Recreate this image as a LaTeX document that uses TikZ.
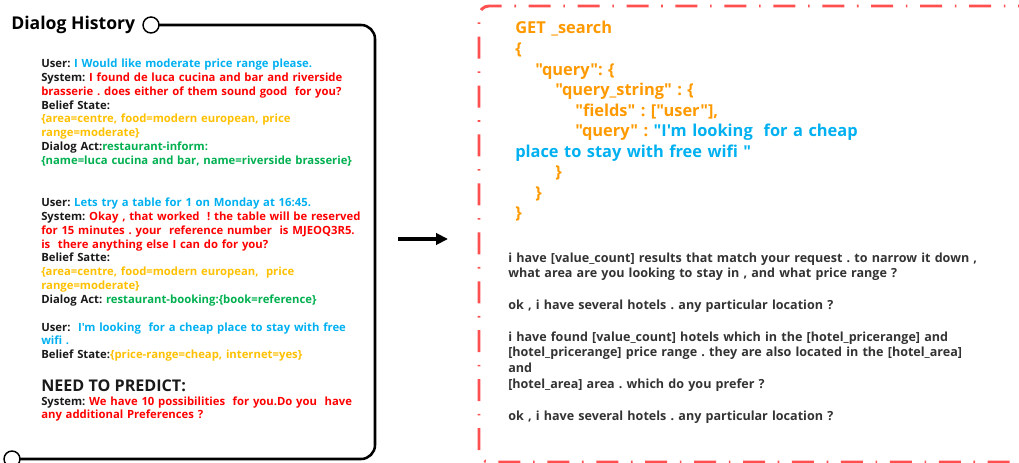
\documentclass[tikz,border=0pt]{standalone}
\usepackage{fontspec}
\setmainfont{Open Sans}[Ligatures=TeXOff]
\usetikzlibrary{arrows.meta}
\definecolor{usr}{HTML}{00B0F0}
\definecolor{sys}{HTML}{FF0000}
\definecolor{bel}{HTML}{FFC000}
\definecolor{act}{HTML}{00B050}
\definecolor{jsn}{HTML}{FF9900}
\definecolor{frm}{HTML}{FF5050}
\definecolor{dk}{HTML}{1A1A1A}
\definecolor{gr}{HTML}{333333}
\newcommand{\U}[1]{\textcolor{usr}{#1}}
\newcommand{\R}[1]{\textcolor{sys}{#1}}
\newcommand{\Y}[1]{\textcolor{bel}{#1}}
\newcommand{\G}[1]{\textcolor{act}{#1}}
\newcommand{\B}[1]{\textcolor{usr}{#1}}
\tikzset{
  hist/.style={anchor=base west, inner sep=0pt, text width=330pt, align=left,
    font=\fontsize{8.48pt}{10.3pt}\selectfont\bfseries\frenchspacing, text=dk},
  jsontext/.style={anchor=base west, inner sep=0pt, text width=380pt, align=left,
    font=\fontsize{12.3pt}{15.4pt}\selectfont\bfseries\frenchspacing, text=jsn},
  resp/.style={anchor=base west, inner sep=0pt, text width=400pt, align=left,
    font=\fontsize{9.42pt}{11.85pt}\selectfont\bfseries\frenchspacing, text=gr},
  histframe/.style={line width=1.9pt, draw=black, rounded corners=10.5pt},
  endcirc/.style={line width=1.1pt, draw=black, fill=white},
  dashframe/.style={line width=2.2pt, draw=frm, rounded corners=7.5pt,
    dash pattern=on 16.5pt off 9.5pt on 1.2pt off 9.5pt},
  arr/.style={line width=2.3pt, -{Triangle[length=9pt,width=8.5pt]}}
}
\begin{document}
\begin{tikzpicture}[x=0.75pt, y=-0.75pt]
\useasboundingbox (0,0) rectangle (1019,463);
% left frame
\coordinate (tl) at (151,25);
\coordinate (bl) at (12,459);
\draw[histframe] (159,25) -- (375,25) -- (375,459) -- (20,459);
\draw[endcirc] (tl) circle[radius=6pt];
\draw[endcirc] (bl) circle[radius=6pt];
\node[anchor=base west, inner sep=0pt, font=\fontsize{13.2pt}{16pt}\selectfont\bfseries] (title) at (11,30) {Dialog History};
% dialog text
\node[hist] (b1) at (41,68) {User: \U{I Would like moderate price range please.}\\
System: \R{I found de luca cucina and bar and riverside}\\
\R{brasserie . does either of them sound good\ \ for you?}\\
Belief State:\\
\Y{\{area=centre, food=modern european, price}\\
\Y{range=moderate\}}\\
Dialog Act:\G{restaurant-inform:}\\
\G{\{name=luca cucina and bar, name=riverside brasserie\}}};
\node[hist] (b2) at (41,207) {User: \U{Lets try a table for 1 on Monday at 16:45.}\\
System: \R{Okay , that worked\ \ ! the table will be reserved}\\
\R{for 15 minutes . your\ \ reference number\ \ is MJEOQ3R5.}\\
\R{is\ \ there anything else I can do for you?}\\
Belief Satte:\\
\Y{\{area=centre, food=modern european,\ \ price}\\
\Y{range=moderate\}}\\
Dialog Act: \G{restaurant-booking:\{book=reference\}}};
\node[hist] (b3) at (41,331) {User:\ \ \U{I'm looking\ \ for a cheap place to stay with free}\\
\U{wifi .}\\
Belief State:\Y{\{price-range=cheap, internet=yes\}}};
\node[anchor=base west, inner sep=0pt, font=\fontsize{12.1pt}{14pt}\selectfont\bfseries, text=dk] (need) at (41,391) {NEED TO PREDICT:};
\node[hist] (b4) at (41,405) {System: \R{We have 10 possibilities\ \ for you.Do you\ \ have}\\
\R{any additional Preferences ?}};
% arrow
\coordinate (a1) at (398,239);
\coordinate (a2) at (448,239);
\draw[arr] (a1) -- (a2);
% right frame
\draw[dashframe] (1040,6) -- (479,6) -- (479,462) -- (1040,462);
\node[jsontext] (json) at (515,34) {GET \_search\\
\{\\
\hspace*{15pt}"query": \{\\
\hspace*{30pt}"query\_string" : \{\\
\hspace*{45pt}"fields" : ["user"],\\
\hspace*{45pt}"query" : \B{"I'm looking\ \ for a cheap}\\
\B{place to stay with free wifi "}\\
\hspace*{30pt}\}\\
\hspace*{15pt}\}\\
\}};
\node[resp] (resp) at (508,262) {i have {[}value\_count{]} results that match your request . to narrow it down ,\\
what area are you looking to stay in , and what price range ?\\
\mbox{}\\
ok , i have several hotels . any particular location ?\\
\mbox{}\\
i have found {[}value\_count{]} hotels which in the {[}hotel\_pricerange{]} and\\
{[}hotel\_pricerange{]} price range . they are also located in the {[}hotel\_area{]}\\
and\\
{[}hotel\_area{]} area . which do you prefer ?\\
\mbox{}\\
ok , i have several hotels . any particular location ?};
\end{tikzpicture}
\end{document}
